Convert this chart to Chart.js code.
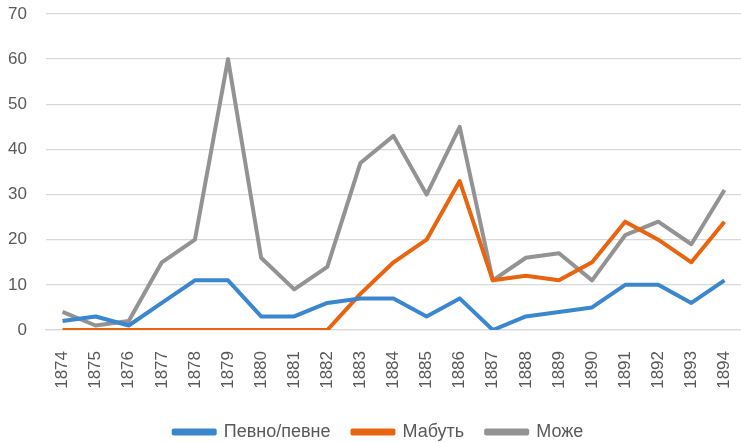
<!DOCTYPE html>
<html><head><meta charset="utf-8">
<script src="https://cdn.jsdelivr.net/npm/chart.js@4"></script>
<style>html,body{margin:0;padding:0;background:#fff}#w{width:741px;height:442px}</style>
</head><body><div id="w"><canvas id="c"></canvas></div>
<script>
const years = ["1874","1875","1876","1877","1878","1879","1880","1881","1882","1883","1884","1885","1886","1887","1888","1889","1890","1891","1892","1893","1894"];
const pevno = [2,3,1,6,11,11,3,3,6,7,7,3,7,0,3,4,5,10,10,6,11];
const mabut = [0,0,0,0,0,0,0,0,0,8,15,20,33,11,12,11,15,24,20,15,24];
const mozhe = [4,1,2,15,20,60,16,9,14,37,43,30,45,11,16,17,11,21,24,19,31];
const seriesNames = ["Певно/певне","Мабуть","Може"];
const yTicks = [0,10,20,30,40,50,60,70];

const font = "'Liberation Sans', Arial, sans-serif";
const txt = "#595959";
function ds(label, data, color){
  return {label, data, borderColor: color, backgroundColor: color, borderWidth: 4, pointRadius: 0, tension: 0, fill: false, borderJoinStyle: 'round'};
}
const shiftLegend = {
  id: 'shiftLegend',
  afterLayout(chart) { const l = chart.legend; if (l) { l.left += 7; l.right += 7; } }
};
new Chart(document.getElementById('c'), {
  type: 'line',
  data: {labels: years, datasets: [
    ds(seriesNames[0], pevno, '#3a87d0'),
    ds(seriesNames[1], mabut, '#e9640e'),
    ds(seriesNames[2], mozhe, '#939393')
  ]},
  plugins: [shiftLegend],
  options: {
    responsive: true, maintainAspectRatio: false, animation: false,
    layout: {padding: {left: 0, right: -2, top: 14, bottom: -9}},
    plugins: {
      legend: {position: 'bottom', labels: {font: {family: font, size: 18}, color: txt, boxWidth: 41, boxHeight: 3, padding: 22}},
      tooltip: {enabled: false}
    },
    scales: {
      x: {offset: true, grid: {display: false, drawTicks: false}, border: {color: '#d9d9d9', width: 1.3},
          ticks: {font: {family: font, size: 17}, color: txt, minRotation: 90, maxRotation: 90, padding: 21, autoSkip: false},
          afterFit: s => { s.paddingLeft = 0; s.paddingRight = 0; s.height = 71; }},
      y: {min: 0, max: 70, afterBuildTicks: a => { a.ticks = yTicks.map(v => ({value: v})); },
          grid: {color: '#d9d9d9', lineWidth: 1.3, drawTicks: false}, border: {display: false},
          ticks: {font: {family: font, size: 17}, color: txt, padding: 19},
          afterFit: s => { s.width = 46; s.paddingTop = 0; s.paddingBottom = 0; }}
    }
  }
});
</script></body></html>
